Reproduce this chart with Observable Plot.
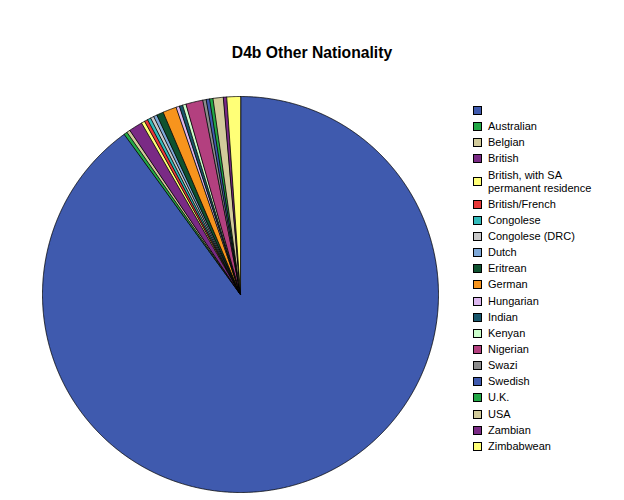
<!DOCTYPE html>
<html>
<head>
<meta charset="utf-8">
<script src="https://cdn.jsdelivr.net/npm/d3@7"></script>
<script src="https://cdn.jsdelivr.net/npm/@observablehq/plot@0.6"></script>
<style>
  html, body { margin: 0; padding: 0; background: #fff; }
  #wrap { position: relative; width: 624px; height: 500px; font-family: "Liberation Sans", Arial, sans-serif; }
  #title { position: absolute; left: 0; width: 624px; top: 44px; text-align: center; font-weight: bold; font-size: 15.7px; color: #000; }
  #chart { position: absolute; left: 0; top: 0; }
  #legend { position: absolute; left: 473px; top: 104px; font-size: 11px; color: #000; }
  .row { display: flex; align-items: center; margin-bottom: 3.15px; line-height: 13px; }
  .sw { width: 7px; height: 7px; border: 1px solid #000; margin-right: 6px; flex: none; }
</style>
</head>
<body>
<div id="wrap">
  <div id="chart"></div>
  <div id="title">D4b Other Nationality</div>
  <div id="legend"></div>
</div>
<script>
const nationalities = ["", "Australian", "Belgian", "British", "British, with SA permanent residence",
  "British/French", "Congolese", "Congolese (DRC)", "Dutch", "Eritrean", "German", "Hungarian",
  "Indian", "Kenyan", "Nigerian", "Swazi", "Swedish", "U.K.", "USA", "Zambian", "Zimbabwean"];
const counts = [324, 1, 1, 4, 1, 1, 1, 1, 1, 2, 4, 1, 1, 1, 5, 1, 1, 1, 3, 1, 4];
const palette = ["#3F5AAE", "#22A846", "#D2CB9B", "#7A2A85", "#FFFF77", "#E83838", "#33BBBB", "#C8C8C8",
  "#7EA8D8", "#0F5230", "#F7941D", "#DDB8F0", "#17566B", "#CCFFCC", "#B3407F", "#8C8C8C",
  "#3F5AAE", "#22A846", "#D2CB9B", "#7A2A85", "#FFFF77"];
const legendLines = {"British, with SA permanent residence": ["British, with SA", "permanent residence"]};

const rows = nationalities.map((n, i) => ({name: n, value: counts[i]}));
const arcs = d3.pie().sort(null).value(d => d.value).startAngle(0).endAngle(2 * Math.PI)(rows);

function slicePolygon(a0, a1) {
  const pts = [[0, 0]];
  const steps = Math.max(2, Math.ceil((a1 - a0) / (Math.PI / 720)));
  for (let k = 0; k <= steps; k++) {
    const a = a0 + (a1 - a0) * k / steps;
    pts.push([Math.sin(a), -Math.cos(a)]);
  }
  pts.push([0, 0]);
  return pts;
}

const features = arcs.map((a, i) => ({
  type: "Feature",
  properties: {name: a.data.name, color: palette[i]},
  geometry: {type: "Polygon", coordinates: [slicePolygon(a.startAngle, a.endAngle)]}
}));

const plot = Plot.plot({
  width: 624,
  height: 500,
  marginLeft: 42,
  marginRight: 186,
  marginTop: 96,
  marginBottom: 8,
  projection: {type: "identity", domain: {type: "MultiPoint", coordinates: [[-1, -1], [1, 1]]}},
  marks: [
    Plot.geo(features, {fill: d => d.properties.color, stroke: "#000", strokeWidth: 0.8, strokeLinejoin: "round"})
  ]
});
document.getElementById("chart").appendChild(plot);

const legend = document.getElementById("legend");
nationalities.forEach((n, i) => {
  const row = document.createElement("div");
  row.className = "row";
  const sw = document.createElement("div");
  sw.className = "sw";
  sw.style.background = palette[i];
  row.appendChild(sw);
  const t = document.createElement("div");
  const lines = legendLines[n] || [n === "" ? "\u00a0" : n];
  t.innerHTML = lines.map(l => l.replace(/&/g, "&amp;").replace(/</g, "&lt;")).join("<br>");
  row.appendChild(t);
  legend.appendChild(row);
});
</script>
</body>
</html>
